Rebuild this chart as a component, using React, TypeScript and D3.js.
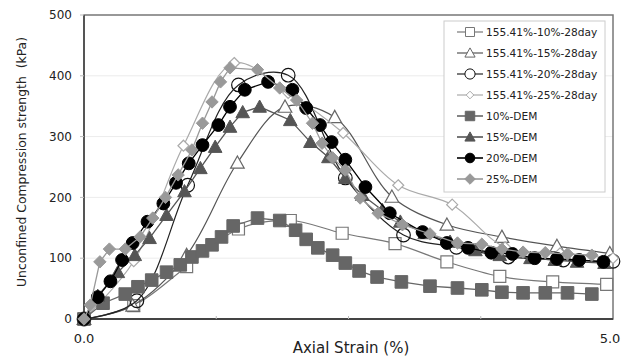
import React from "react";
import * as d3 from "d3";

const W = 630, H = 356;
const M = { left: 84, right: 613, top: 15, bottom: 319 };

const yTicks = [0, 100, 200, 300, 400, 500];
const xTickLabels = [0, 5];
const xMinorTicks = [1.25, 2.5, 3.75];

// Lab series (155.41%-xx%-28day)
const lab10X = [0, 0.47, 0.97, 1.46, 1.95, 2.44, 2.94, 3.43, 3.93, 4.43, 4.94];
const lab10Y = [0, 22, 86, 148, 162, 141, 124, 94, 70, 61, 57];
const lab15X = [0, 0.46, 0.97, 1.45, 1.9, 2.37, 2.91, 3.43, 3.95, 4.47, 4.97];
const lab15Y = [0, 22, 105, 257, 349, 332, 201, 155, 135, 120, 108];
const lab20X = [0, 0.5, 0.98, 1.46, 1.93, 2.47, 3.02, 3.52, 4.01, 4.53, 5.0];
const lab20Y = [0, 30, 220, 385, 401, 232, 138, 118, 102, 97, 95];
const lab25X = [0, 0.47, 0.94, 1.42, 1.93, 2.45, 2.97, 3.48, 3.98, 4.5, 5.0];
const lab25Y = [0, 95, 285, 421, 372, 306, 220, 188, 118, 108, 100];

// DEM series
const dem10X = [0, 0.18, 0.39, 0.51, 0.64, 0.78, 0.91, 1.02, 1.12, 1.21, 1.3, 1.41, 1.64, 1.85, 2.0, 2.1, 2.21, 2.35, 2.47, 2.6, 2.77, 3.0, 3.27, 3.53, 3.76, 3.95, 4.15, 4.36, 4.57, 4.8];
const dem10Y = [0, 26, 41, 53, 64, 77, 89, 102, 112, 122, 135, 153, 166, 162, 146, 131, 117, 105, 92, 79, 69, 61, 54, 51, 48, 44, 43, 43, 43, 41];
const dem15X = [0, 0.13, 0.32, 0.48, 0.62, 0.78, 0.95, 1.1, 1.24, 1.38, 1.5, 1.66, 1.95, 2.14, 2.31, 2.47, 2.63, 2.82, 2.99, 3.22, 3.46, 3.7, 3.93, 4.22, 4.45, 4.66, 4.92];
const dem15Y = [0, 38, 77, 105, 133, 171, 210, 248, 283, 316, 340, 349, 327, 291, 266, 232, 204, 179, 160, 141, 127, 113, 105, 100, 97, 94, 92];
const dem20X = [0, 0.13, 0.25, 0.36, 0.46, 0.6, 0.75, 0.87, 0.99, 1.12, 1.27, 1.38, 1.52, 1.74, 1.97, 2.1, 2.23, 2.34, 2.47, 2.66, 2.89, 3.2, 3.43, 3.63, 3.85, 4.05, 4.26, 4.47, 4.68, 4.91];
const dem20Y = [0, 36, 62, 97, 125, 160, 190, 224, 256, 286, 319, 349, 377, 390, 377, 347, 319, 291, 262, 217, 174, 143, 125, 117, 109, 107, 100, 99, 97, 94];
const dem25X = [0, 0.06, 0.15, 0.24, 0.39, 0.53, 0.65, 0.77, 0.89, 1.02, 1.12, 1.21, 1.29, 1.38, 1.64, 1.85, 2.01, 2.16, 2.25, 2.35, 2.47, 2.61, 2.78, 3.01, 3.27, 3.53, 3.76, 3.95, 4.15, 4.36, 4.57, 4.8];
const dem25Y = [0, 23, 94, 115, 115, 135, 166, 200, 237, 278, 322, 357, 390, 413, 410, 380, 360, 322, 289, 265, 245, 199, 174, 155, 140, 125, 123, 115, 110, 109, 107, 105];

const seriesNames = [
  "155.41%-10%-28day",
  "155.41%-15%-28day",
  "155.41%-20%-28day",
  "155.41%-25%-28day",
  "10%-DEM",
  "15%-DEM",
  "20%-DEM",
  "25%-DEM",
];

type Marker = "sq" | "tri" | "circ" | "dia";
interface Series {
  name: string;
  xs: number[];
  ys: number[];
  smooth: boolean;
  marker: Marker;
  open: boolean;
  stroke: string;
  fill: string;
  lineColor: string;
  lineWidth: number;
}

const series: Series[] = [
  { name: seriesNames[0], xs: lab10X, ys: lab10Y, smooth: true, marker: "sq", open: true, stroke: "#777", fill: "#fff", lineColor: "#777", lineWidth: 1.2 },
  { name: seriesNames[1], xs: lab15X, ys: lab15Y, smooth: true, marker: "tri", open: true, stroke: "#666", fill: "#fff", lineColor: "#555", lineWidth: 1.2 },
  { name: seriesNames[2], xs: lab20X, ys: lab20Y, smooth: true, marker: "circ", open: true, stroke: "#111", fill: "none", lineColor: "#222", lineWidth: 1.2 },
  { name: seriesNames[3], xs: lab25X, ys: lab25Y, smooth: true, marker: "dia", open: true, stroke: "#aaa", fill: "#fff", lineColor: "#aaa", lineWidth: 1.2 },
  { name: seriesNames[4], xs: dem10X, ys: dem10Y, smooth: false, marker: "sq", open: false, stroke: "#666", fill: "#666", lineColor: "#666", lineWidth: 1.3 },
  { name: seriesNames[5], xs: dem15X, ys: dem15Y, smooth: false, marker: "tri", open: false, stroke: "#555", fill: "#555", lineColor: "#555", lineWidth: 1.3 },
  { name: seriesNames[6], xs: dem20X, ys: dem20Y, smooth: false, marker: "circ", open: false, stroke: "#000", fill: "#000", lineColor: "#000", lineWidth: 1.3 },
  { name: seriesNames[7], xs: dem25X, ys: dem25Y, smooth: false, marker: "dia", open: false, stroke: "#999", fill: "#999", lineColor: "#999", lineWidth: 1.3 },
];

function markerPath(m: Marker, open: boolean, legend: boolean): string {
  const s = legend ? 0.75 : 1;
  if (m === "sq") {
    const h = (open ? 6 : 6.3) * s;
    return `M${-h},${-h}H${h}V${h}H${-h}Z`;
  }
  if (m === "tri") {
    const h = 6.8 * s;
    return `M0,${-h}L${h},${h * 0.8}L${-h},${h * 0.8}Z`;
  }
  if (m === "dia") {
    const h = (open ? (legend ? 4.5 : 5.5) : 6.2) * (legend ? 0.85 : 1);
    return `M0,${-h}L${h},0L0,${h}L${-h},0Z`;
  }
  const r = (open ? 6.8 : 6.4) * s;
  return d3.symbol().type(d3.symbolCircle).size(Math.PI * r * r)() || "";
}

export default function App() {
  const x = d3.scaleLinear().domain([0, 5]).range([M.left, M.right]);
  const y = d3.scaleLinear().domain([0, 500]).range([M.bottom, M.top]);
  const font = "'DejaVu Sans', Verdana, sans-serif";

  const legendX = 444, legendY = 21, legendW = 161, legendH = 171;
  const rowH = 21;

  return (
    <svg width={W} height={H} style={{ position: "absolute", left: 0, top: 0, background: "#fff" }} fontFamily={font}>
      <rect x={0} y={0} width={W} height={H} fill="#fff" />
      {/* gridlines */}
      {yTicks.filter((t) => t > 0 && t < 500).map((t) => (
        <line key={t} x1={M.left} x2={M.right} y1={y(t)} y2={y(t)} stroke="#ececec" strokeWidth={1} />
      ))}
      {/* frame */}
      <rect x={M.left} y={M.top} width={M.right - M.left} height={M.bottom - M.top} fill="none" stroke="#777" strokeWidth={1.5} />
      <line x1={M.left} x2={M.left} y1={M.top} y2={M.bottom} stroke="#555" strokeWidth={2} />
      <line x1={M.left} x2={M.right} y1={M.bottom} y2={M.bottom} stroke="#444" strokeWidth={2} />
      {/* y ticks */}
      {yTicks.map((t) => (
        <g key={t}>
          <line x1={M.left - 4} x2={M.left} y1={y(t)} y2={y(t)} stroke="#bbb" strokeWidth={1} />
          <text x={M.left - 12} y={y(t)} dy="0.35em" textAnchor="end" fontSize={12} fill="#222">{t}</text>
        </g>
      ))}
      {/* x ticks */}
      {xMinorTicks.map((t) => (
        <line key={t} x1={x(t)} x2={x(t)} y1={M.bottom - 3} y2={M.bottom} stroke="#bbb" strokeWidth={1} />
      ))}
      {xTickLabels.map((t) => (
        <text key={t} x={x(t) - (t === 0 ? 0 : 3)} y={343} textAnchor="middle" fontSize={13} fill="#222">{t.toFixed(1)}</text>
      ))}
      <text x={351} y={353} textAnchor="middle" fontSize={15} fill="#222">Axial Strain (%)</text>
      <text transform={`translate(26,162) rotate(-90)`} textAnchor="middle" fontSize={12.4} fill="#222" style={{ whiteSpace: "pre" }}>
        {"Unconfined Compression strength  (kPa)"}
      </text>

      {/* series */}
      {series.map((s, i) => {
        const pts: [number, number][] = s.xs.map((v, j) => [x(v), y(s.ys[j])]);
        const line = d3.line().curve(s.smooth ? d3.curveCatmullRom.alpha(0.5) : d3.curveLinear);
        return (
          <g key={i}>
            <path d={line(pts) || ""} fill="none" stroke={s.lineColor} strokeWidth={s.lineWidth} />
            {pts.map((p, j) => (
              <path key={j} d={markerPath(s.marker, s.open, false)} transform={`translate(${p[0]},${p[1]})`} fill={s.fill} stroke={s.stroke} strokeWidth={s.open ? 1.2 : 1} />
            ))}
          </g>
        );
      })}

      {/* legend */}
      <rect x={legendX} y={legendY} width={legendW} height={legendH} fill="#fff" stroke="#ccc" strokeWidth={1} />
      {series.map((s, i) => {
        const cy = legendY + 11 + i * rowH;
        return (
          <g key={i}>
            <line x1={457} x2={483} y1={cy} y2={cy} stroke={s.lineColor} strokeWidth={s.open ? 1.2 : 1.6} />
            <path d={markerPath(s.marker, s.open, true)} transform={`translate(470,${cy})`} fill={s.open ? "#fff" : s.fill} stroke={s.stroke} strokeWidth={1} />
            <text x={486} y={cy} dy="0.35em" fontSize={10.6} fill="#222">{s.name}</text>
          </g>
        );
      })}
    </svg>
  );
}
